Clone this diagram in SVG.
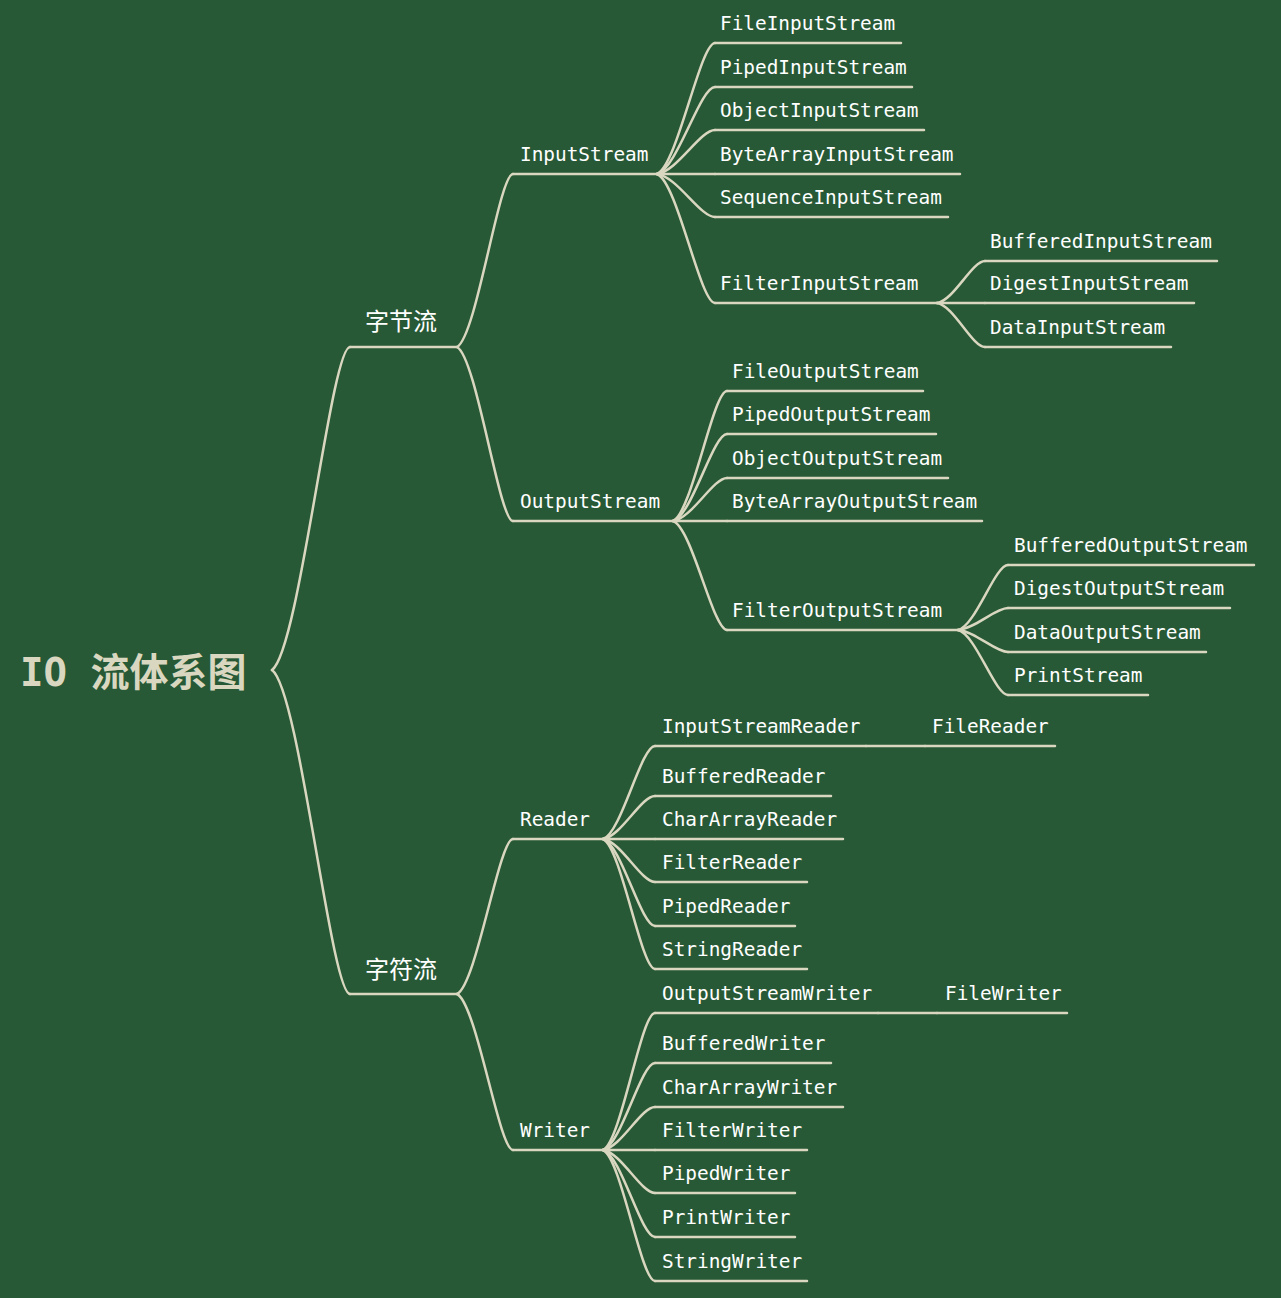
<svg xmlns="http://www.w3.org/2000/svg" width="1281" height="1298" viewBox="0 0 1281 1298">
<style>
.bg{fill:#275936}
.ln{fill:none;stroke:#d9d7bf;stroke-width:2.5;stroke-linecap:round}
.t{font-family:"DejaVu Sans Mono","Liberation Mono",monospace;font-size:19.4px;fill:#ffffff}
.cj{font-family:"Noto Sans CJK SC","Noto Sans",sans-serif;font-size:24px;fill:#ffffff}
.title{font-family:"DejaVu Sans Mono","Noto Sans CJK SC",monospace;font-size:39px;font-weight:bold;fill:#d9d7bf}
</style>
<rect class="bg" x="0" y="0" width="1281" height="1298"/>
<g id="connectors" class="ln">
<path d="M272,670 C299.3,650.6 331,347 350,347"/>
<path d="M272,670 C299.3,689.4 331,994 350,994"/>
<path d="M457,347 C476.6,336.6 499,174 513,174"/>
<path d="M457,347 C476.6,357.4 499,521 513,521"/>
<path d="M457,994 C476.6,984.7 499,839 513,839"/>
<path d="M457,994 C476.6,1003.4 499,1150 513,1150"/>
<path d="M657,174 C677.3,166.1 700,43 715,43"/>
<path d="M657,174 C677.3,168.8 700,87 715,87"/>
<path d="M657,174 C677.3,171.4 700,130 715,130"/>
<path d="M657,174 L715,174"/>
<path d="M657,174 C677.3,176.6 700,217 715,217"/>
<path d="M657,174 C677.3,181.7 700,303 715,303"/>
<path d="M937,303 C953.8,300.5 972,261 985,261"/>
<path d="M937,303 L985,303"/>
<path d="M937,303 C953.8,305.6 972,347 985,347"/>
<path d="M673,521 C691.9,513.2 713,391 727,391"/>
<path d="M673,521 C691.9,515.8 713,434 727,434"/>
<path d="M673,521 C691.9,518.4 713,478 727,478"/>
<path d="M673,521 L727,521"/>
<path d="M673,521 C691.9,527.5 713,630 727,630"/>
<path d="M958,630 C975.5,626.1 995,565 1008,565"/>
<path d="M958,630 C975.5,628.7 995,608 1008,608"/>
<path d="M958,630 C975.5,631.3 995,652 1008,652"/>
<path d="M958,630 C975.5,633.9 995,695 1008,695"/>
<path d="M603,839 C621.2,833.4 641,746 655,746"/>
<path d="M866,746 L925,746"/>
<path d="M603,839 C621.2,836.4 641,796 655,796"/>
<path d="M603,839 L655,839"/>
<path d="M603,839 C621.2,841.6 641,882 655,882"/>
<path d="M603,839 C621.2,844.2 641,926 655,926"/>
<path d="M603,839 C621.2,846.8 641,969 655,969"/>
<path d="M603,1150 C621.2,1141.8 641,1013 655,1013"/>
<path d="M878,1013 L937,1013"/>
<path d="M603,1150 C621.2,1144.8 641,1063 655,1063"/>
<path d="M603,1150 C621.2,1147.4 641,1107 655,1107"/>
<path d="M603,1150 L655,1150"/>
<path d="M603,1150 C621.2,1152.6 641,1193 655,1193"/>
<path d="M603,1150 C621.2,1155.2 641,1237 655,1237"/>
<path d="M603,1150 C621.2,1157.9 641,1281 655,1281"/>
</g>
<g id="root"><text class="title" x="20" y="686">IO 流体系图</text></g>
<g id="n-byte"><path class="ln" d="M350,347 H457"/><text class="cj" x="365" y="330">字节流</text></g>
<g id="n-char"><path class="ln" d="M350,994 H457"/><text class="cj" x="365" y="978">字符流</text></g>
<g id="n-inputstream"><path class="ln" d="M513,174 H657"/><text class="t" x="520" y="161">InputStream</text></g>
<g id="n-outputstream"><path class="ln" d="M513,521 H673"/><text class="t" x="520" y="508">OutputStream</text></g>
<g id="n-reader"><path class="ln" d="M513,839 H603"/><text class="t" x="520" y="826">Reader</text></g>
<g id="n-writer"><path class="ln" d="M513,1150 H603"/><text class="t" x="520" y="1137">Writer</text></g>
<g id="n-fileinputstream"><path class="ln" d="M715,43 H901"/><text class="t" x="720" y="30">FileInputStream</text></g>
<g id="n-pipedinputstream"><path class="ln" d="M715,87 H912"/><text class="t" x="720" y="74">PipedInputStream</text></g>
<g id="n-objectinputstream"><path class="ln" d="M715,130 H924"/><text class="t" x="720" y="117">ObjectInputStream</text></g>
<g id="n-bytearrayinputstream"><path class="ln" d="M715,174 H960"/><text class="t" x="720" y="161">ByteArrayInputStream</text></g>
<g id="n-sequenceinputstream"><path class="ln" d="M715,217 H948"/><text class="t" x="720" y="204">SequenceInputStream</text></g>
<g id="n-filterinputstream"><path class="ln" d="M715,303 H937"/><text class="t" x="720" y="290">FilterInputStream</text></g>
<g id="n-bufferedinputstream"><path class="ln" d="M985,261 H1217"/><text class="t" x="990" y="248">BufferedInputStream</text></g>
<g id="n-digestinputstream"><path class="ln" d="M985,303 H1194"/><text class="t" x="990" y="290">DigestInputStream</text></g>
<g id="n-datainputstream"><path class="ln" d="M985,347 H1171"/><text class="t" x="990" y="334">DataInputStream</text></g>
<g id="n-fileoutputstream"><path class="ln" d="M727,391 H923"/><text class="t" x="732" y="378">FileOutputStream</text></g>
<g id="n-pipedoutputstream"><path class="ln" d="M727,434 H936"/><text class="t" x="732" y="421">PipedOutputStream</text></g>
<g id="n-objectoutputstream"><path class="ln" d="M727,478 H948"/><text class="t" x="732" y="465">ObjectOutputStream</text></g>
<g id="n-bytearrayoutputstream"><path class="ln" d="M727,521 H982"/><text class="t" x="732" y="508">ByteArrayOutputStream</text></g>
<g id="n-filteroutputstream"><path class="ln" d="M727,630 H958"/><text class="t" x="732" y="617">FilterOutputStream</text></g>
<g id="n-bufferedoutputstream"><path class="ln" d="M1008,565 H1254"/><text class="t" x="1014" y="552">BufferedOutputStream</text></g>
<g id="n-digestoutputstream"><path class="ln" d="M1008,608 H1230"/><text class="t" x="1014" y="595">DigestOutputStream</text></g>
<g id="n-dataoutputstream"><path class="ln" d="M1008,652 H1206"/><text class="t" x="1014" y="639">DataOutputStream</text></g>
<g id="n-printstream"><path class="ln" d="M1008,695 H1148"/><text class="t" x="1014" y="682">PrintStream</text></g>
<g id="n-inputstreamreader"><path class="ln" d="M655,746 H866"/><text class="t" x="662" y="733">InputStreamReader</text></g>
<g id="n-filereader"><path class="ln" d="M925,746 H1055"/><text class="t" x="932" y="733">FileReader</text></g>
<g id="n-bufferedreader"><path class="ln" d="M655,796 H831"/><text class="t" x="662" y="783">BufferedReader</text></g>
<g id="n-chararrayreader"><path class="ln" d="M655,839 H843"/><text class="t" x="662" y="826">CharArrayReader</text></g>
<g id="n-filterreader"><path class="ln" d="M655,882 H807"/><text class="t" x="662" y="869">FilterReader</text></g>
<g id="n-pipedreader"><path class="ln" d="M655,926 H795"/><text class="t" x="662" y="913">PipedReader</text></g>
<g id="n-stringreader"><path class="ln" d="M655,969 H807"/><text class="t" x="662" y="956">StringReader</text></g>
<g id="n-outputstreamwriter"><path class="ln" d="M655,1013 H878"/><text class="t" x="662" y="1000">OutputStreamWriter</text></g>
<g id="n-filewriter"><path class="ln" d="M937,1013 H1067"/><text class="t" x="945" y="1000">FileWriter</text></g>
<g id="n-bufferedwriter"><path class="ln" d="M655,1063 H831"/><text class="t" x="662" y="1050">BufferedWriter</text></g>
<g id="n-chararraywriter"><path class="ln" d="M655,1107 H843"/><text class="t" x="662" y="1094">CharArrayWriter</text></g>
<g id="n-filterwriter"><path class="ln" d="M655,1150 H807"/><text class="t" x="662" y="1137">FilterWriter</text></g>
<g id="n-pipedwriter"><path class="ln" d="M655,1193 H795"/><text class="t" x="662" y="1180">PipedWriter</text></g>
<g id="n-printwriter"><path class="ln" d="M655,1237 H795"/><text class="t" x="662" y="1224">PrintWriter</text></g>
<g id="n-stringwriter"><path class="ln" d="M655,1281 H807"/><text class="t" x="662" y="1268">StringWriter</text></g>
</svg>
